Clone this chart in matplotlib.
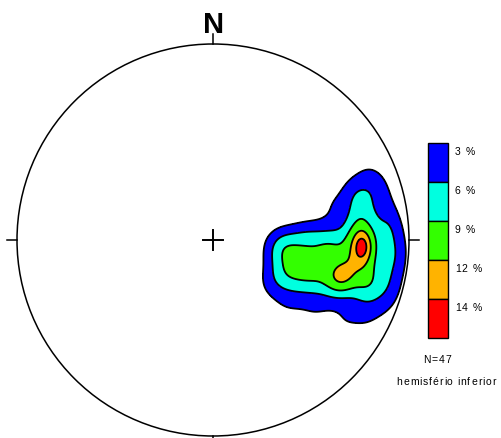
# Estereograma de densidade de polos (Schmidt, hemisfério inferior)

import numpy as np
import matplotlib
matplotlib.use('Agg')
import matplotlib.pyplot as plt
from matplotlib.patches import Circle, Rectangle
from matplotlib.font_manager import FontProperties

# Polos medidos (trend / plunge em graus), N = 47
trend = [93.3, 93.3, 93.3, 93.3, 93.3, 106.1, 106.2, 106.2, 106.2, 106.2,
         88.3, 85.0, 81.5, 73.5, 69.5, 73.5, 85.1, 85.1, 95.9, 104.7,
         94.4, 105.5, 105.5, 105.5, 124.2, 121.1, 109.0, 94.2, 112.2, 100.5,
         112.0, 110.8, 93.3, 110.8, 93.8, 94.8, 114.7, 126.9, 130.1, 92.9,
         86.7, 91.9, 72.6, 107.8, 116.2, 93.8, 73.4]
plunge = [24.3, 24.3, 24.3, 24.3, 24.3, 30.0, 32.8, 32.8, 32.8, 32.8,
          26.6, 28.3, 22.3, 24.2, 15.5, 24.2, 10.7, 10.7, 7.5, 10.2,
          7.7, 19.4, 19.4, 19.4, 36.6, 22.6, 41.7, 48.7, 54.0, 61.3,
          52.6, 45.6, 40.7, 45.6, 60.9, 52.4, 58.6, 59.0, 48.1, 39.9,
          50.1, 38.5, 11.1, 5.1, 12.8, 60.9, 37.0]

# Curvas de isodensidade (% por 1% de área)
levels = [3, 6, 9, 12, 14]
labels = ['3 %', '6 %', '9 %', '12 %', '14 %']
colors = ['#0000ff', '#00ffe0', '#33ff00', '#ffb300', '#ff0000']

# Posição da rede na figura (pixels)
CX, CY, R = 213, 241, 196


def vec(tr, pl):
    # vetor unitário (norte, leste, baixo)
    tr = np.radians(tr)
    pl = np.radians(pl)
    return np.stack([np.cos(pl) * np.cos(tr), np.cos(pl) * np.sin(tr), np.sin(pl)], -1)


def P2(x, y):
    # pixel -> coordenadas da rede
    return (x - CX) / R, (CY - y) / R


# Grade na projeção de área igual
n = 400
gx, gy = np.meshgrid(np.linspace(-1, 1, n), np.linspace(-1, 1, n))
gr = np.clip(np.hypot(gx, gy), 0, 1)
gtr = np.degrees(np.arctan2(gx, gy))
gpl = 90 - np.degrees(2 * np.arcsin(gr / np.sqrt(2)))

# Densidade suavizada (círculo de contagem de 1%)
G = vec(gtr, gpl)
P = vec(np.array(trend), np.array(plunge))
dens = 100 * np.exp(100 * (np.abs(G @ P.T) - 1)).sum(-1) / len(trend)

plt.rcParams['font.family'] = ['Liberation Sans', 'DejaVu Sans']
fig = plt.figure(figsize=(5.02, 4.39), dpi=100)
ax = fig.add_axes([0, 0, 1, 1])
ax.set_xlim(-CX / R, (502 - CX) / R)
ax.set_ylim(-(439 - CY) / R, CY / R)
ax.axis('off')

cf = ax.contourf(gx, gy, dens, levels=levels + [1000], colors=colors)
cl = ax.contour(gx, gy, dens, levels=levels, colors='black', linewidths=1.3)
net = Circle((0, 0), 1, fill=False, lw=1.1, color='black')
ax.add_patch(net)
cf.set_clip_path(net)
cl.set_clip_path(net)

# Marcas N, S, E, W e centro
t = 0.05
for a, b in [((0, 1), (0, 1 + t)), ((0, -1), (0, -1 - t)), ((-1, 0), (-1 - t, 0)), ((1, 0), (1 + t, 0))]:
    ax.plot([a[0], b[0]], [a[1], b[1]], color='black', lw=1.1)
ax.plot([-t, t], [0, 0], color='black', lw=1.4)
ax.plot([0, 0], [-t, t], color='black', lw=1.4)
ax.text(*P2(214, 33), 'N', ha='center', va='baseline', fontsize=21, fontweight='bold')

# Texto com espaçamento entre letras
rend = fig.canvas.get_renderer()


def spaced(xp, yp, s, size, track, ha='left'):
    fp = FontProperties(family='Liberation Sans', size=size)
    ws = [rend.get_text_width_height_descent(ch, fp, ismath=False)[0] for ch in s]
    total = sum(ws) + track * (len(s) - 1)
    x = xp - total / 2 if ha == 'center' else xp
    for ch, wch in zip(s, ws):
        ax.text(*P2(x, yp), ch, ha='left', va='center', fontproperties=fp)
        x += wch + track


# Legenda
bx, bw, bh, btop = 428, 20, 39, 144
for i, (c, lab) in enumerate(zip(colors, labels)):
    x1, y1 = P2(bx, btop + (i + 1) * bh)
    ax.add_patch(Rectangle((x1, y1), bw / R, bh / R, facecolor=c, edgecolor='black', lw=1.0))
    spaced(455, btop + i * bh + 8, lab, 7.5, 1.0)
spaced(437, 360, 'N=%d' % len(trend), 7.5, 1.2, ha='center')
spaced(446, 382, 'hemisfério inferior', 7.5, 0.9, ha='center')

fig.savefig('out.png', dpi=100)
